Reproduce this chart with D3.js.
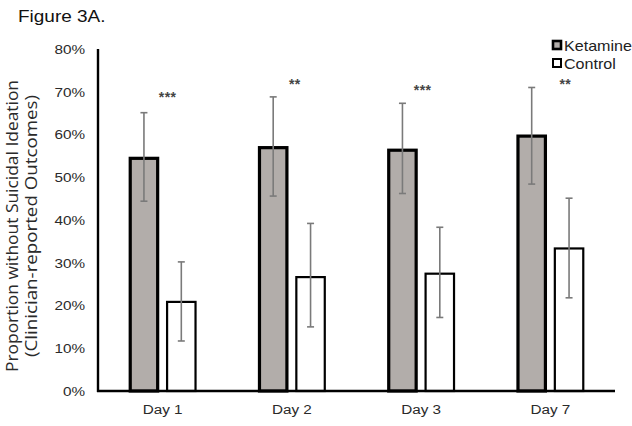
<!DOCTYPE html>
<html><head><meta charset="utf-8">
<script src="https://cdnjs.cloudflare.com/ajax/libs/d3/7.8.5/d3.min.js"></script>
<style>body{margin:0;background:#fff}svg{display:block}</style>
</head><body>
<script>
const days = ["Day 1", "Day 2", "Day 3", "Day 7"];
const series = ["Ketamine", "Control"];
const ketamine = [0.548, 0.573, 0.567, 0.600];
const ketamineLow = [0.444, 0.456, 0.462, 0.484];
const ketamineHigh = [0.651, 0.688, 0.673, 0.710];
const control = [0.211, 0.269, 0.277, 0.336];
const controlLow = [0.117, 0.150, 0.172, 0.218];
const controlHigh = [0.302, 0.392, 0.383, 0.451];
const sigLabels = ["***", "**", "***", "**"];
const sigLevel = [0.695, 0.726, 0.711, 0.726];
const yTicks = [0, 0.1, 0.2, 0.3, 0.4, 0.5, 0.6, 0.7, 0.8];

const W = 632, H = 426;
const svg = d3.select("body").append("svg").attr("width", W).attr("height", H);
const SX = 1.15;
const font = "'Liberation Sans', Arial, sans-serif";

function htext(g, x, yy, str, size, anchor, fill, weight) {
  return g.append("text")
    .attr("transform", `translate(${x},${yy}) scale(${SX},1)`)
    .attr("text-anchor", anchor || "start")
    .attr("font-family", font)
    .attr("font-size", size)
    .attr("font-weight", weight || "normal")
    .attr("fill", fill || "#222")
    .text(str);
}

const mLeft = 98, mRight = 615, mTop = 49, mBottom = 391;
const y = d3.scaleLinear().domain([0, 0.8]).range([mBottom, mTop]);
const x0 = d3.scaleBand().domain(days).range([mLeft, mRight]);
const half = 34;
const x1 = d3.scaleBand().domain(series)
  .range([x0.bandwidth() / 2 - half, x0.bandwidth() / 2 + half]).paddingInner(0.18);

// title
htext(svg, 18, 22, "Figure 3A.", 16.5, "start", "#111");

// y tick labels
yTicks.forEach(t => {
  htext(svg, 85, y(t) + 4.8, d3.format(".0%")(t), 13.3, "end", "#2a2a2a");
});

// y axis title
const yl = svg.append("g").attr("font-family", "'Open Sans', sans-serif").attr("fill", "#2a2a2a");
yl.append("text")
  .attr("transform", "translate(18,226) rotate(-90)")
  .attr("text-anchor", "middle").attr("font-size", 16)
  .attr("textLength", 292).attr("lengthAdjust", "spacingAndGlyphs")
  .text("Proportion without Suicidal Ideation");
yl.append("text")
  .attr("transform", "translate(37,226) rotate(-90)")
  .attr("text-anchor", "middle").attr("font-size", 16)
  .attr("textLength", 262).attr("lengthAdjust", "spacingAndGlyphs")
  .text("(Clinician-reported Outcomes)");

// bars
const data = days.map((d, i) => ({
  day: d,
  vals: [
    {s: "Ketamine", v: ketamine[i], lo: ketamineLow[i], hi: ketamineHigh[i]},
    {s: "Control", v: control[i], lo: controlLow[i], hi: controlHigh[i]}
  ]
}));
const style = {
  Ketamine: {fill: "#b2adaa", sw: 3.2},
  Control: {fill: "#ffffff", sw: 2.2}
};
const groups = svg.selectAll("g.grp").data(data).join("g")
  .attr("class", "grp")
  .attr("transform", d => `translate(${x0(d.day)},0)`);
groups.selectAll("rect").data(d => d.vals).join("rect")
  .attr("x", d => x1(d.s) + style[d.s].sw / 2)
  .attr("width", d => x1.bandwidth() - style[d.s].sw)
  .attr("y", d => y(d.v) + style[d.s].sw / 2)
  .attr("height", d => y(0) - y(d.v) - style[d.s].sw / 2)
  .attr("fill", d => style[d.s].fill)
  .attr("stroke", "#000")
  .attr("stroke-width", d => style[d.s].sw);

// error bars
const eb = groups.selectAll("g.eb").data(d => d.vals).join("g").attr("class", "eb")
  .attr("stroke", "#7a7a7a").attr("stroke-width", 1.6);
eb.append("line")
  .attr("x1", d => x1(d.s) + x1.bandwidth() / 2).attr("x2", d => x1(d.s) + x1.bandwidth() / 2)
  .attr("y1", d => y(d.hi)).attr("y2", d => y(d.lo));
eb.append("line")
  .attr("x1", d => x1(d.s) + x1.bandwidth() / 2 - 3.5).attr("x2", d => x1(d.s) + x1.bandwidth() / 2 + 3.5)
  .attr("y1", d => y(d.hi)).attr("y2", d => y(d.hi));
eb.append("line")
  .attr("x1", d => x1(d.s) + x1.bandwidth() / 2 - 3.5).attr("x2", d => x1(d.s) + x1.bandwidth() / 2 + 3.5)
  .attr("y1", d => y(d.lo)).attr("y2", d => y(d.lo));

// axes lines
svg.append("line").attr("x1", mLeft).attr("x2", mLeft).attr("y1", mTop).attr("y2", mBottom + 1)
  .attr("stroke", "#000").attr("stroke-width", 2.4);
svg.append("line").attr("x1", mLeft - 1).attr("x2", mRight).attr("y1", mBottom).attr("y2", mBottom)
  .attr("stroke", "#000").attr("stroke-width", 2.4);

// category labels
days.forEach(d => {
  htext(svg, x0(d) + x0.bandwidth() / 2, 414, d, 13.3, "middle", "#2a2a2a");
});

// significance stars
const starShift = [5, 3, 1.5, 15];
days.forEach((d, i) => {
  svg.append("text")
    .attr("x", x0(d) + x0.bandwidth() / 2 + starShift[i])
    .attr("y", y(sigLevel[i]) + 8)
    .attr("text-anchor", "middle")
    .attr("font-family", font).attr("font-size", 14).attr("font-weight", "bold")
    .attr("letter-spacing", 0.5)
    .attr("fill", "#444")
    .text(sigLabels[i]);
});

// legend
const lg = svg.append("g");
series.forEach((s, i) => {
  const ly = 41 + i * 18;
  lg.append("rect").attr("x", 553).attr("y", ly).attr("width", 8).attr("height", 8)
    .attr("fill", style[s].fill).attr("stroke", "#000").attr("stroke-width", i === 0 ? 2.6 : 2);
  htext(lg, 564, ly + 9.5, s, 14, "start", "#222");
});
</script>
</body></html>
